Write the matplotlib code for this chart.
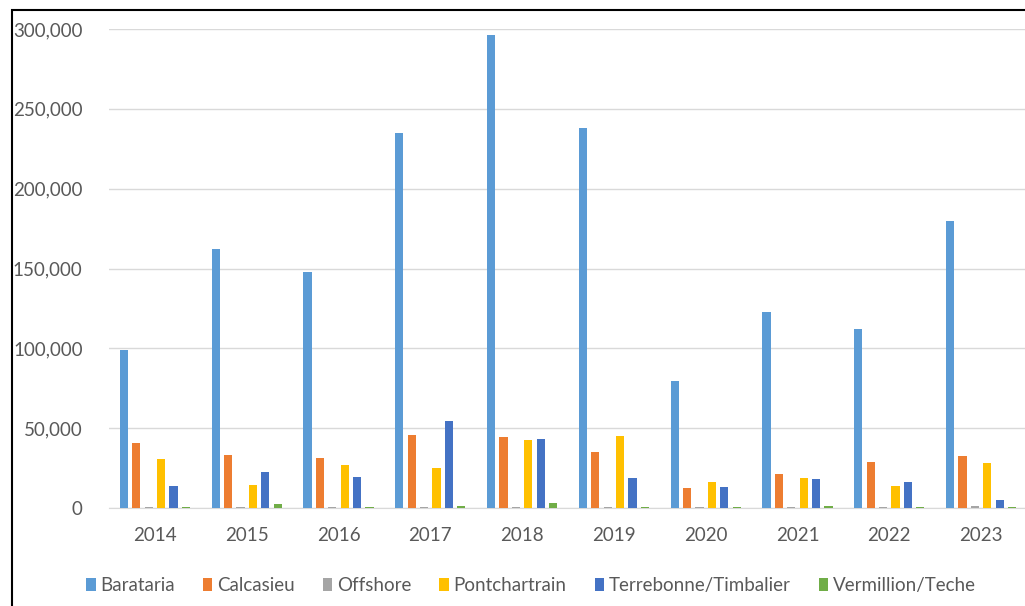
import numpy as np
import matplotlib.pyplot as plt
from matplotlib.patches import Rectangle
from matplotlib.ticker import FuncFormatter

plt.rcParams['font.family'] = ['Lato', 'DejaVu Sans']

years = ['2014', '2015', '2016', '2017', '2018', '2019', '2020', '2021', '2022', '2023']
basins = ['Barataria', 'Calcasieu', 'Offshore', 'Pontchartrain',
          'Terrebonne/Timbalier', 'Vermillion/Teche']
colors = ['#5B9BD5', '#ED7D31', '#A5A5A5', '#FFC000', '#4472C4', '#70AD47']

barataria = [99000, 162000, 148000, 235000, 296000, 238000, 79500, 123000, 112000, 180000]
calcasieu = [41000, 33500, 31500, 46000, 44500, 35000, 12500, 21000, 28800, 32800]
offshore = [800, 900, 700, 600, 700, 600, 500, 600, 500, 1200]
pontchartrain = [30800, 14500, 27000, 25000, 42600, 45000, 16000, 19000, 14000, 28300]
terrebonne = [14000, 22800, 19500, 54500, 43500, 19000, 13000, 18000, 16000, 5000]
vermillion = [400, 2500, 600, 1500, 3000, 600, 500, 1500, 400, 600]

series = [barataria, calcasieu, offshore, pontchartrain, terrebonne, vermillion]

fig = plt.figure(figsize=(10.25, 6.06), dpi=100)
ax = fig.add_axes([109 / 1025, 1 - 508 / 606, 918 / 1025, 479 / 606])

x = np.arange(len(years))
pitch = 0.135
width = 0.088
for i, (name, vals, c) in enumerate(zip(basins, series, colors)):
    offset = (i - (len(series) - 1) / 2) * pitch
    ax.bar(x + offset, vals, width=width, color=c, label=name, zorder=3)

ax.set_xlim(-0.5, len(years) - 0.5)
ax.set_ylim(0, 300000)
ax.set_yticks(np.arange(0, 300001, 50000))
ax.yaxis.set_major_formatter(FuncFormatter(lambda v, p: f'{int(v):,}'))
ax.set_xticks(x)
ax.set_xticklabels(years)

ax.grid(axis='y', color='#D9D9D9', linewidth=1, zorder=0)
for s in ['top', 'right', 'left']:
    ax.spines[s].set_visible(False)
ax.spines['bottom'].set_color('#D9D9D9')
ax.tick_params(axis='both', length=0, labelsize=13.5, labelcolor='#595959')
ax.tick_params(axis='y', pad=19)
ax.tick_params(axis='x', pad=14)

fig.legend(loc='center', bbox_to_anchor=(0.518, 0.034), ncol=6, frameon=False,
           fontsize=13.5, handlelength=0.5, handleheight=0.7, handletextpad=0.25,
           columnspacing=1.5, labelcolor='#595959')

# outer frame of the chart image
fig.patches.append(Rectangle((12 / 1025, -0.1), 1.2, 1 - 10 / 606 + 0.1,
                             transform=fig.transFigure, fill=False,
                             edgecolor='black', linewidth=1.5))

fig.savefig('out.png', dpi=100)
